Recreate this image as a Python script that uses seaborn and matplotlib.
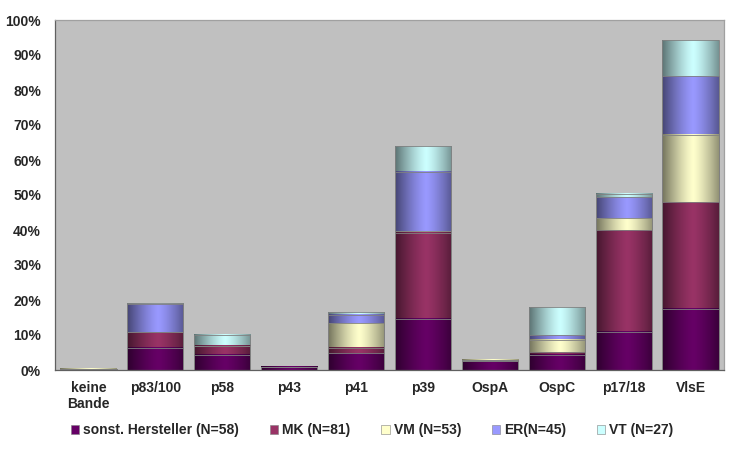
import numpy as np
import pandas as pd
import matplotlib
matplotlib.use("Agg")
import matplotlib.pyplot as plt
import matplotlib.colors as mcolors
import seaborn as sns
from matplotlib.patches import Patch
from matplotlib.ticker import FuncFormatter, FixedLocator

# Daten (Anteil in %)
banden = ["keine\nBande", "p83/100", "p58", "p43", "p41", "p39", "OspA", "OspC", "p17/18", "VlsE"]
sonst = [0.0, 6.3, 4.3, 1.0, 4.8, 14.6, 2.5, 4.4, 10.9, 17.5]
mk = [0.0, 4.5, 2.7, 0.0, 1.5, 24.6, 0.0, 0.7, 29.1, 30.5]
vm = [0.4, 0.0, 0.0, 0.0, 7.1, 0.4, 0.4, 3.5, 3.3, 19.2]
er = [0.0, 8.0, 0.0, 0.0, 2.4, 17.0, 0.0, 1.4, 6.1, 16.7]
vt = [0.0, 0.3, 3.1, 0.0, 0.7, 7.3, 0.0, 8.0, 0.9, 10.3]

serien = ["sonst. Hersteller (N=58)", "MK (N=81)", "VM (N=53)", "ER(N=45)", "VT (N=27)"]
farben = ["#660066", "#993366", "#FFFFCC", "#9999FF", "#CCFFFF"]

sns.set_style("white")
plt.rcParams['font.family'] = ['Liberation Sans', 'DejaVu Sans']
plt.rcParams['font.weight'] = 'bold'

df = pd.DataFrame({"bande": banden, "s0": sonst, "s1": mk, "s2": vm, "s3": er, "s4": vt})
cum = df[["s0", "s1", "s2", "s3", "s4"]].cumsum(axis=1) / 100.0

fig = plt.figure(figsize=(7.3, 4.54), dpi=100)
ax = fig.add_axes([55/730, 1-370/454, (724-55)/730, 350/454])
ax.set_facecolor("#C0C0C0")

bw = 0.84
# gestapelt: von oben nach unten zeichnen
for k in range(4, -1, -1):
    sns.barplot(x=df["bande"], y=cum["s%d" % k], color=farben[k], saturation=1,
                width=bw, edgecolor="#808080", linewidth=0.6, ax=ax, zorder=2)

# Zylinder-Schattierung: jede Saeule bekommt einen horizontalen Verlauf
t = np.linspace(0, 1, 120)
shade = 1 - 0.55 * (np.abs(t - 0.55) / 0.55) ** 1.3
for p in list(ax.patches):
    h = p.get_height()
    if h <= 0:
        p.set_visible(False)
        continue
    rgb = np.array(mcolors.to_rgb(p.get_facecolor()))
    img = (shade[:, None] * rgb[None, :])[None, :, :]
    x0 = p.get_x()
    ax.imshow(img, extent=[x0, x0 + p.get_width(), 0, h], aspect="auto",
              interpolation="bilinear", zorder=3)
    p.set_facecolor("none")
    p.set_zorder(4)

ax.set_xlim(-0.5, 9.5)
ax.set_ylim(0, 1.0)
ax.set_xlabel("")
ax.set_ylabel("")
ax.yaxis.set_major_locator(FixedLocator(np.arange(0, 1.01, 0.1)))
ax.yaxis.set_major_formatter(FuncFormatter(lambda v, p: "%d%%" % round(v * 100)))
ax.set_xticks(range(10))
ax.set_xticklabels(banden)
ax.set_xticks(np.arange(-0.5, 10, 1), minor=True)
ax.tick_params(axis="x", which="major", length=0, pad=8, labelsize=10)
ax.tick_params(axis="x", which="minor", length=4, direction="out", color="#606060", width=0.8)
ax.tick_params(axis="y", length=4, direction="out", color="#606060", width=0.8, labelsize=10, pad=6)
for lab in ax.get_xticklabels() + ax.get_yticklabels():
    lab.set_fontweight("bold")

for s in ["left", "bottom"]:
    ax.spines[s].set_color("#606060")
    ax.spines[s].set_linewidth(0.9)
for s in ["top", "right"]:
    ax.spines[s].set_color("#a0a0a0")
    ax.spines[s].set_linewidth(0.9)
for s in ax.spines.values():
    s.set_zorder(5)

handles = [Patch(facecolor=farben[k], edgecolor="#808080", linewidth=0.4) for k in range(5)]
fig.legend(handles, serien, loc="center", bbox_to_anchor=(0.51, 1 - 430/454), ncol=5,
           frameon=False, handlelength=0.6, handleheight=0.6, handletextpad=0.3,
           columnspacing=2.2, prop={"weight": "bold", "size": 10})

fig.savefig("out.png", dpi=100)
